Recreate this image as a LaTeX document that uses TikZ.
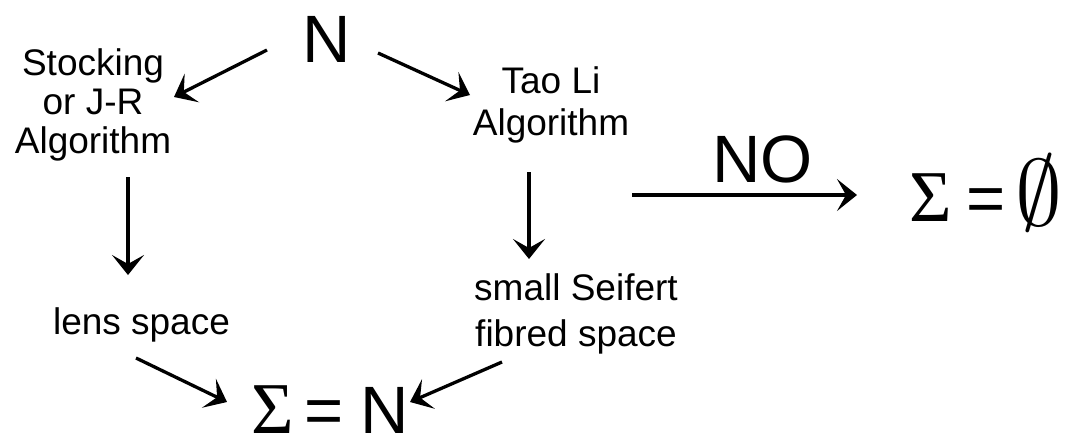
\documentclass[tikz,border=0pt]{standalone}
\usepackage{graphicx}
\usepackage{fontspec}
\setmainfont{Liberation Sans}
\newfontfamily\greekserif{Liberation Serif}
\usetikzlibrary{arrows.meta}

\begin{document}
\begin{tikzpicture}[x=1pt, y=-1pt, line width=3.3pt,
    every node/.style={inner sep=0pt},
    arr/.style={-{Stealth[length=20pt, width=32pt, inset=9pt]}},
    lbl/.style={align=center, font=\fontsize{37}{39}\selectfont},
    big/.style={font=\fontsize{67}{67}\selectfont}]
        \useasboundingbox (0,0) rectangle (1068,432);

        % base of a multi-line node is its last line
        \node[big, anchor=base] at (326.5, 62)   (n) {N};
        \node[lbl, anchor=base] at (93, 153)    (stock) {Stocking\\or J-R\\Algorithm};
        \node[lbl, anchor=base] at (551, 135)   (tao) {Tao Li\\[3pt]Algorithm};
        \node[lbl, anchor=base] at (141.5, 334) (lens) {lens space};
        \node[lbl, anchor=base] at (576, 346)   (seif) {small Seifert\\[7pt]fibred space};
        \node[big, anchor=base west] at (908, 221.5) (empty) {{\greekserif\fontsize{73}{73}\selectfont Σ}\hspace{14pt}=\hspace{10pt}\raisebox{-4pt}{\scalebox{9.4}{\fontsize{10}{10}\selectfont$\emptyset$}}};
        \node[big, anchor=base west] at (250, 433)   (sigman) {{\greekserif\fontsize{73}{73}\selectfont Σ}\hspace{10pt}=\hspace{17pt}N};

        \draw [arr] ([shift={(-59.5,-12)}]n.base) -- ([shift={(81,-56)}]stock.base);
        \draw [arr] ([shift={(51.5,-9)}]n.base) -- ([shift={(-81,-40)}]tao.base);
        \draw [arr] ([shift={(35,24)}]stock.base) -- ([shift={(-13.5,-59)}]lens.base);
        \draw [arr] ([shift={(-22,37)}]tao.base) -- ([shift={(-47,-87)}]seif.base);
        \draw [arr] ([shift={(-5.5,24)}]lens.base) -- ([shift={(-23,-31)}]sigman.base west);
        \draw [arr] ([shift={(-74,16)}]seif.base) -- ([shift={(160,-31)}]sigman.base west);
        \draw [arr] ([shift={(81,60)}]tao.base) -- node[big, pos=0.58, above=10.5pt] (no) {NO} ([shift={(-51,-26.5)}]empty.base west);

\end{tikzpicture}
\end{document}
